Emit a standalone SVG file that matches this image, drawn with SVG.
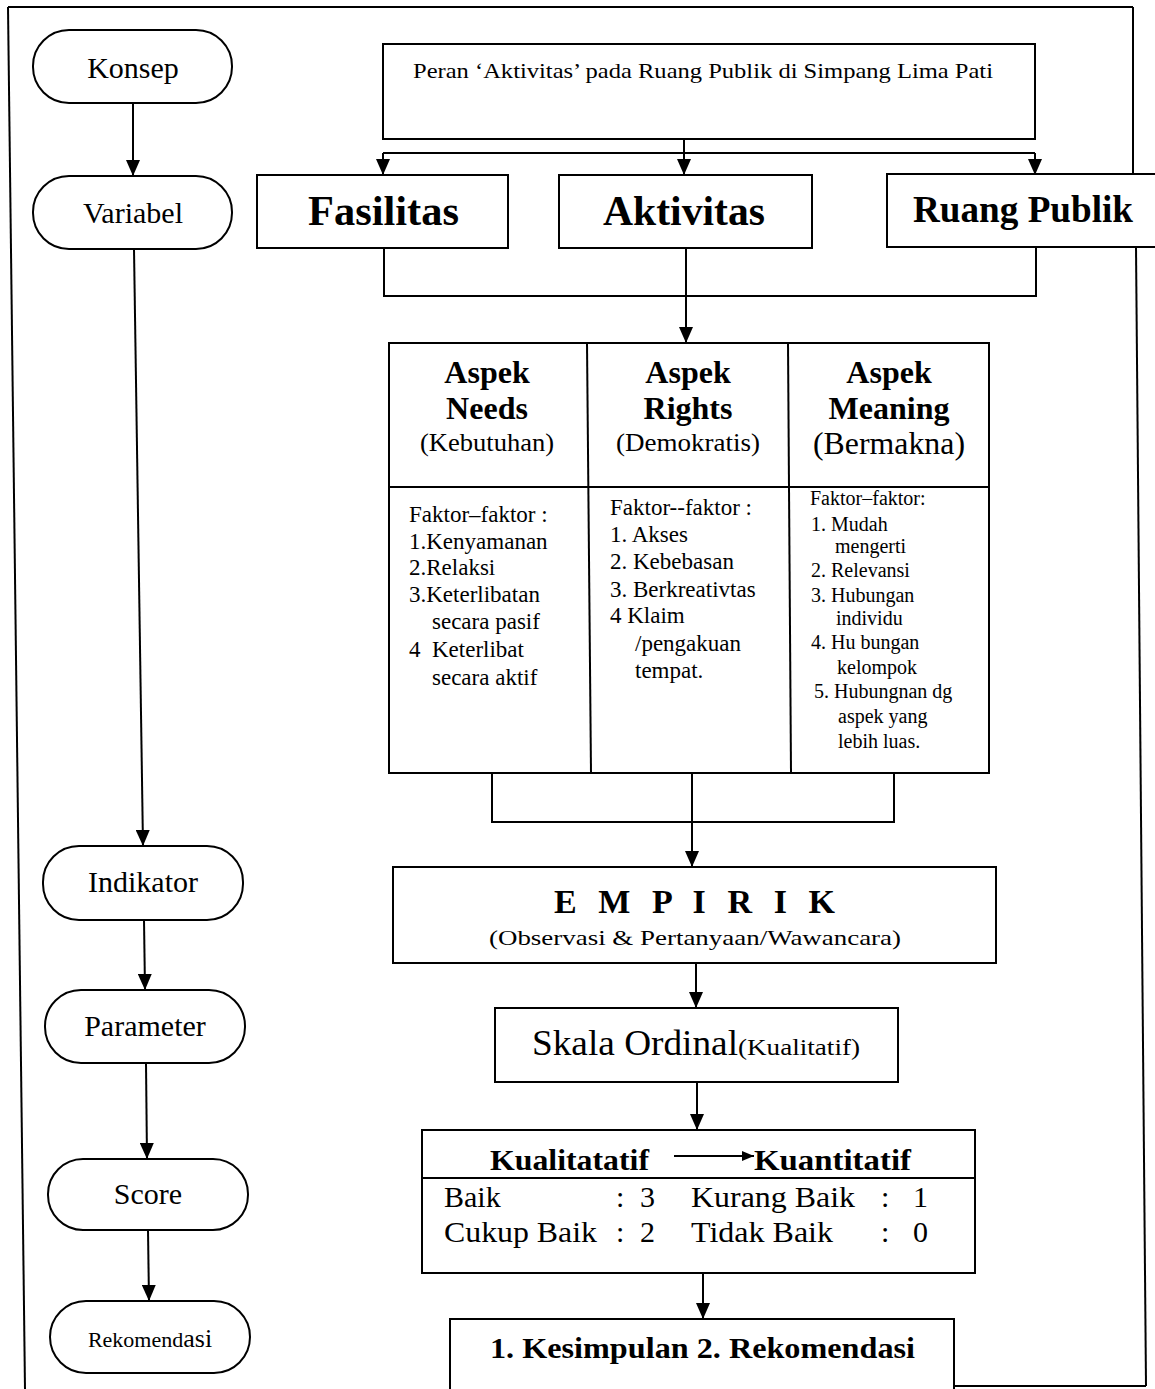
<svg xmlns="http://www.w3.org/2000/svg" width="1155" height="1389" viewBox="0 0 1155 1389">
  <style>
    .box { fill: #fff; stroke: #000; stroke-width: 2; }
    .ln { fill: none; stroke: #000; stroke-width: 2; }
    .arr { fill: none; stroke: #000; stroke-width: 2; marker-end: url(#ah); }
    .t { font-family: "Liberation Serif", "Times New Roman", serif; fill: #000; }
    .b { font-weight: bold; }
    .c { text-anchor: middle; }
    .pill { font-size: 30px; }
    .f1 { font-size: 23px; }
    .f3 { font-size: 20px; }
  </style>
  <defs>
    <marker id="ah" viewBox="0 0 16 14" markerWidth="16" markerHeight="14" refX="16" refY="7" orient="auto" markerUnits="userSpaceOnUse">
      <path d="M0,0 L16,7 L0,14 Z" fill="#000"/>
    </marker>
    <marker id="ahs" viewBox="0 0 12 10" markerWidth="12" markerHeight="10" refX="12" refY="5" orient="auto" markerUnits="userSpaceOnUse">
      <path d="M0,0 L12,5 L0,10 Z" fill="#000"/>
    </marker>
  </defs>

  <rect x="0" y="0" width="1155" height="1389" fill="#fff"/>

  <!-- outer frame -->
  <g id="frame">
    <line class="ln" x1="8" y1="7" x2="25" y2="1389"/>
    <line class="ln" x1="8" y1="7" x2="1133" y2="7"/>
    <line class="ln" x1="1133" y1="7" x2="1133" y2="175"/>
    <line class="ln" x1="1136" y1="247" x2="1146" y2="1386"/>
    <line class="ln" x1="945" y1="1386" x2="1146" y2="1386"/>
  </g>

  <!-- connectors -->
  <g id="connectors">
    <!-- left column -->
    <line class="arr" x1="133" y1="103" x2="133" y2="176"/>
    <line class="arr" x1="134" y1="249" x2="143" y2="846"/>
    <line class="arr" x1="144" y1="920" x2="145" y2="990"/>
    <line class="arr" x1="146" y1="1063" x2="147" y2="1159"/>
    <line class="arr" x1="148" y1="1230" x2="149" y2="1301"/>
    <!-- title split -->
    <line class="ln" x1="684" y1="139" x2="684" y2="153"/>
    <line class="ln" x1="383" y1="153" x2="1035" y2="153"/>
    <line class="arr" x1="383" y1="153" x2="383" y2="175"/>
    <line class="arr" x1="684" y1="153" x2="684" y2="175"/>
    <line class="arr" x1="1035" y1="153" x2="1035" y2="175"/>
    <!-- variable merge -->
    <polyline class="ln" points="384,248 384,296 1036,296 1036,247"/>
    <line class="arr" x1="686" y1="248" x2="686" y2="343"/>
    <!-- aspect merge -->
    <polyline class="ln" points="492,773 492,822 894,822 894,773"/>
    <line class="arr" x1="692" y1="773" x2="692" y2="867"/>
    <!-- lower chain -->
    <line class="arr" x1="696" y1="963" x2="696" y2="1008"/>
    <line class="arr" x1="697" y1="1082" x2="697" y2="1130"/>
    <line class="arr" x1="703" y1="1273" x2="703" y2="1319"/>
  </g>

  <!-- left column pills -->
  <g id="konsep">
    <rect class="box" x="33" y="30" width="199" height="73" rx="36"/>
    <text class="t pill c" x="133" y="78">Konsep</text>
  </g>
  <g id="variabel">
    <rect class="box" x="33" y="176" width="199" height="73" rx="36"/>
    <text class="t pill c" x="133" y="223">Variabel</text>
  </g>
  <g id="indikator">
    <rect class="box" x="43" y="846" width="200" height="74" rx="36"/>
    <text class="t pill c" x="143" y="892">Indikator</text>
  </g>
  <g id="parameter">
    <rect class="box" x="45" y="990" width="200" height="73" rx="36"/>
    <text class="t pill c" x="145" y="1036">Parameter</text>
  </g>
  <g id="score">
    <rect class="box" x="48" y="1159" width="200" height="71" rx="35"/>
    <text class="t pill c" x="148" y="1204">Score</text>
  </g>
  <g id="rekomendasi">
    <rect class="box" x="50" y="1301" width="200" height="72" rx="36"/>
    <text class="t c" x="150" y="1347" style="font-size:22px">Rekomend<tspan style="font-size:26px">asi</tspan></text>
  </g>

  <!-- title -->
  <g id="judul">
    <rect class="box" x="383" y="44" width="652" height="95"/>
    <text class="t" x="413" y="78" style="font-size:21px" textLength="580" lengthAdjust="spacingAndGlyphs">Peran ‘Aktivitas’ pada Ruang Publik di Simpang Lima Pati</text>
  </g>

  <!-- variables -->
  <g id="fasilitas">
    <rect class="box" x="257" y="175" width="251" height="73"/>
    <text class="t b" x="308" y="225" style="font-size:42px" textLength="151" lengthAdjust="spacingAndGlyphs">Fasilitas</text>
  </g>
  <g id="aktivitas">
    <rect class="box" x="559" y="175" width="253" height="73"/>
    <text class="t b" x="603" y="225" style="font-size:42px" textLength="162" lengthAdjust="spacingAndGlyphs">Aktivitas</text>
  </g>
  <g id="ruang-publik">
    <rect class="box" x="887" y="174" width="280" height="73"/>
    <text class="t b" x="913" y="222" style="font-size:37px" textLength="220" lengthAdjust="spacingAndGlyphs">Ruang Publik</text>
  </g>

  <!-- aspects table -->
  <g id="aspek">
    <rect class="box" x="389" y="343" width="600" height="430"/>
    <line class="ln" x1="389" y1="487" x2="989" y2="487"/>
    <line class="ln" x1="587" y1="343" x2="591" y2="773"/>
    <line class="ln" x1="788" y1="343" x2="791" y2="773"/>

    <g id="aspek-needs">
      <text class="t b c" x="487" y="383" style="font-size:32px">Aspek</text>
      <text class="t b c" x="487" y="419" style="font-size:32px">Needs</text>
      <text class="t c" x="487" y="451" style="font-size:25px" textLength="134" lengthAdjust="spacingAndGlyphs">(Kebutuhan)</text>
      <g class="t f1">
        <text x="409" y="522">Faktor–faktor :</text>
        <text x="409" y="549">1.Kenyamanan</text>
        <text x="409" y="575">2.Relaksi</text>
        <text x="409" y="602">3.Keterlibatan</text>
        <text x="432" y="629">secara pasif</text>
        <text x="409" y="657" xml:space="preserve">4  Keterlibat</text>
        <text x="432" y="685">secara aktif</text>
      </g>
    </g>

    <g id="aspek-rights">
      <text class="t b c" x="688" y="383" style="font-size:32px">Aspek</text>
      <text class="t b c" x="688" y="419" style="font-size:32px">Rights</text>
      <text class="t c" x="688" y="451" style="font-size:25px" textLength="144" lengthAdjust="spacingAndGlyphs">(Demokratis)</text>
      <g class="t f1">
        <text x="610" y="515">Faktor--faktor :</text>
        <text x="610" y="542">1. Akses</text>
        <text x="610" y="569">2. Kebebasan</text>
        <text x="610" y="597">3. Berkreativtas</text>
        <text x="610" y="623">4 Klaim</text>
        <text x="635" y="651">/pengakuan</text>
        <text x="635" y="678">tempat.</text>
      </g>
    </g>

    <g id="aspek-meaning">
      <text class="t b c" x="889" y="383" style="font-size:32px">Aspek</text>
      <text class="t b c" x="889" y="419" style="font-size:32px">Meaning</text>
      <text class="t c" x="889" y="454" style="font-size:31px" textLength="152" lengthAdjust="spacingAndGlyphs">(Bermakna)</text>
      <g class="t f3">
        <text x="810" y="505">Faktor–faktor:</text>
        <text x="811" y="531">1. Mudah</text>
        <text x="835" y="553">mengerti</text>
        <text x="811" y="577">2. Relevansi</text>
        <text x="811" y="602">3. Hubungan</text>
        <text x="836" y="625">individu</text>
        <text x="811" y="649">4. Hu bungan</text>
        <text x="837" y="674">kelompok</text>
        <text x="814" y="698">5. Hubungnan dg</text>
        <text x="838" y="723">aspek yang</text>
        <text x="838" y="748">lebih luas.</text>
      </g>
    </g>
  </g>

  <!-- empirical step -->
  <g id="empirik">
    <rect class="box" x="393" y="867" width="603" height="96"/>
    <text class="t b" x="554" y="913" style="font-size:34px" textLength="281" xml:space="preserve">E M P I R I K</text>
    <text class="t" x="489" y="945" style="font-size:22px" textLength="412" lengthAdjust="spacingAndGlyphs">(Observasi &amp; Pertanyaan/Wawancara)</text>
  </g>

  <g id="skala">
    <rect class="box" x="495" y="1008" width="403" height="74"/>
    <text class="t" x="532" y="1055" style="font-size:36px" textLength="206" lengthAdjust="spacingAndGlyphs">Skala Ordinal</text>
    <text class="t" x="738" y="1055" style="font-size:24px" textLength="122" lengthAdjust="spacingAndGlyphs">(Kualitatif)</text>
  </g>

  <g id="konversi">
    <rect class="box" x="422" y="1130" width="553" height="143"/>
    <line class="ln" x1="422" y1="1178" x2="975" y2="1178"/>
    <text class="t b" x="490" y="1170" style="font-size:29px" textLength="159" lengthAdjust="spacingAndGlyphs">Kualitatatif</text>
    <line x1="674" y1="1156" x2="754" y2="1156" stroke="#000" stroke-width="2" marker-end="url(#ahs)"/>
    <text class="t b" x="754" y="1170" style="font-size:29px" textLength="157" lengthAdjust="spacingAndGlyphs">Kuantitatif</text>
    <g class="t" style="font-size:30px">
      <text x="444" y="1207">Baik</text>
      <text x="616" y="1207">:</text>
      <text x="640" y="1207">3</text>
      <text x="691" y="1207" textLength="164" lengthAdjust="spacingAndGlyphs">Kurang Baik</text>
      <text x="881" y="1207">:</text>
      <text x="913" y="1207">1</text>
      <text x="444" y="1242" textLength="153" lengthAdjust="spacingAndGlyphs">Cukup Baik</text>
      <text x="616" y="1242">:</text>
      <text x="640" y="1242">2</text>
      <text x="691" y="1242" textLength="142" lengthAdjust="spacingAndGlyphs">Tidak Baik</text>
      <text x="881" y="1242">:</text>
      <text x="913" y="1242">0</text>
    </g>
  </g>

  <g id="kesimpulan">
    <rect class="box" x="450" y="1319" width="504" height="90"/>
    <text class="t b" x="490" y="1358" style="font-size:29px" textLength="425" lengthAdjust="spacingAndGlyphs">1. Kesimpulan 2. Rekomendasi</text>
  </g>
</svg>
